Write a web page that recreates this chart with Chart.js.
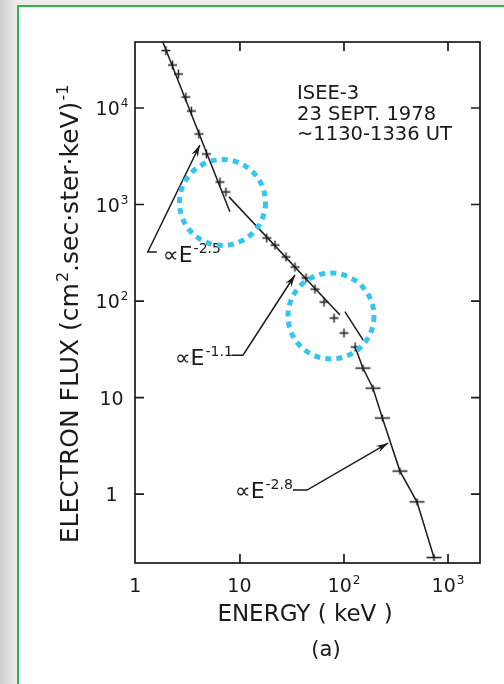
<!DOCTYPE html>
<html>
<head>
<meta charset="utf-8">
<title>ISEE-3 electron spectrum</title>
<script src="https://cdn.jsdelivr.net/npm/chart.js@4.4.0/dist/chart.umd.min.js"></script>
<style>
  html, body { margin: 0; padding: 0; background: #ececec; }
  #wrap { position: relative; width: 504px; height: 684px; }
</style>
</head>
<body>
<div id="wrap"><canvas id="spectrum" width="504" height="684"></canvas></div>
<script>
// measured electron spectrum, ISEE-3, 23 Sept 1978
var energy = [1.94, 2.25, 2.56, 3.02, 3.41, 4.03, 4.76, 6.42, 7.33,
              18.1, 21.7, 27.7, 33.8, 43.1, 52.6, 64.2, 80.2, 100, 128,
              152, 190, 234, 345, 503, 733];
var flux = [39400, 27900, 22500, 13000, 9310, 5380, 3340, 1710, 1350,
            450, 380, 286, 225, 173, 133, 97.7, 66.7, 46.6, 33.4,
            20.2, 12.5, 6.13, 1.73, 0.83, 0.22];

// power-law fits (end points)
var fit25E = [1.82, 8.0],   fit25F = [48000, 840];
var fit11E = [7.85, 91.5],  fit11F = [1200, 71.6];
var fit28E = [102, 153],    fit28F = [77.7, 39.4];
var tailFrom = 120; // keV, where the high-energy trace starts

// axes
var xTicks = [1, 10, 100, 1000];
var xTickBase = ['1', '10', '10', '10'];
var xTickPow = ['', '', '2', '3'];
var yTicks = [1, 10, 100, 1000, 10000];
var yTickBase = ['1', '10', '10', '10', '10'];
var yTickPow = ['', '', '2', '3', '4'];

// arrow annotations: label, foot, bend and arrow tip
var noteExp = ['-2.5', '-1.1', '-2.8'];
var noteLabelE = [1.82, 2.37, 8.95], noteLabelF = [254, 21.7, 0.91];
var noteFootE = [1.59, 8.37, 32.3],  noteFootF = [322, 27.5, 1.10];
var noteBendE = [1.30, 10.7, 44.1];
var noteTipE = [4.12, 33.8, 265],    noteTipF = [4140, 186, 3.37];

// highlighted regions
var ringE = [6.79, 75.0], ringF = [1050, 70];

var infoLines = ['ISEE-3', '23 SEPT. 1978', '~1130-1336 UT'];

var ink = '#1a1a1a';
var FONT = '"DejaVu Sans", sans-serif';

function pts(xs, ys) {
  return xs.map(function(x, i) { return { x: x, y: ys[i] }; });
}

function crossMarker(w, h) {
  var c = document.createElement('canvas');
  c.width = w + 2;
  c.height = h + 2;
  var g = c.getContext('2d');
  g.strokeStyle = ink;
  g.lineWidth = 1.4;
  g.beginPath();
  g.moveTo(1, c.height / 2); g.lineTo(c.width - 1, c.height / 2);
  g.moveTo(c.width / 2, 1); g.lineTo(c.width / 2, c.height - 1);
  g.stroke();
  return c;
}
var smallCross = crossMarker(9, 9);
var wideCross = crossMarker(15, 7);

// text with raised parts: runs = [[text, isSup], ...]
function drawRuns(g, runs, x, y, size, align) {
  var supSize = Math.round(size * 0.62);
  var widths = runs.map(function(r) {
    g.font = (r[1] ? supSize : size) + 'px ' + FONT;
    return g.measureText(r[0]).width + (r[1] ? 1 : 0);
  });
  var total = widths.reduce(function(s, w) { return s + w; }, 0);
  var cx = align === 'center' ? x - total / 2 : (align === 'right' ? x - total : x);
  g.textAlign = 'left';
  g.textBaseline = 'alphabetic';
  runs.forEach(function(r, i) {
    g.font = (r[1] ? supSize : size) + 'px ' + FONT;
    g.fillText(r[0], cx + (r[1] ? 1 : 0), r[1] ? y - size * 0.42 : y);
    cx += widths[i];
  });
}

function arrowHead(g, fx, fy, tx, ty) {
  var ang = Math.atan2(ty - fy, tx - fx);
  g.beginPath();
  g.moveTo(tx, ty);
  g.lineTo(tx - 12 * Math.cos(ang) + 3.5 * Math.sin(ang), ty - 12 * Math.sin(ang) - 3.5 * Math.cos(ang));
  g.lineTo(tx - 8 * Math.cos(ang), ty - 8 * Math.sin(ang));
  g.lineTo(tx - 12 * Math.cos(ang) - 3.5 * Math.sin(ang), ty - 12 * Math.sin(ang) + 3.5 * Math.cos(ang));
  g.closePath();
  g.fill();
}

var paper = {
  id: 'paper',
  beforeDraw: function(chart) {
    var g = chart.ctx, w = chart.width, h = chart.height;
    g.save();
    g.fillStyle = '#ececec';
    g.fillRect(0, 0, w, h);
    var sh = g.createLinearGradient(0, 0, 18, 0);
    sh.addColorStop(0, '#cfcfcf');
    sh.addColorStop(1, '#efefef');
    g.fillStyle = sh;
    g.fillRect(0, 0, 18, h);
    g.fillStyle = '#ffffff';
    g.fillRect(19, 7, w - 19, h - 7);
    g.strokeStyle = '#2db44e';
    g.lineWidth = 2;
    g.beginPath();
    g.moveTo(18, h); g.lineTo(18, 6); g.lineTo(w, 6);
    g.stroke();
    g.restore();
  }
};

var frame = {
  id: 'frame',
  afterDraw: function(chart) {
    var g = chart.ctx, a = chart.chartArea;
    var xs = chart.scales.x, ys = chart.scales.y;
    g.save();
    g.strokeStyle = ink;
    g.fillStyle = ink;
    g.lineWidth = 1.7;
    g.strokeRect(a.left, a.top, a.right - a.left, a.bottom - a.top);

    // inward ticks on all four sides
    g.beginPath();
    xTicks.forEach(function(v) {
      var px = xs.getPixelForValue(v);
      if (px < a.left + 3) return;
      g.moveTo(px, a.top); g.lineTo(px, a.top + 9);
      g.moveTo(px, a.bottom); g.lineTo(px, a.bottom - 9);
    });
    yTicks.forEach(function(v) {
      var py = ys.getPixelForValue(v);
      g.moveTo(a.left, py); g.lineTo(a.left + 9, py);
      g.moveTo(a.right, py); g.lineTo(a.right - 9, py);
    });
    g.stroke();

    xTicks.forEach(function(v, i) {
      drawRuns(g, [[xTickBase[i], false], [xTickPow[i], true]],
        xs.getPixelForValue(v), a.bottom + 29, 19, 'center');
    });
    yTicks.forEach(function(v, i) {
      drawRuns(g, [[yTickBase[i], false], [yTickPow[i], true]],
        a.left - 23, ys.getPixelForValue(v) + 7, 19, 'center');
    });

    // axis titles
    drawRuns(g, [['ENERGY ( keV )', false]], 305, 621, 23, 'center');
    drawRuns(g, [['(a)', false]], 326, 656, 21, 'center');
    g.save();
    g.translate(78, 314);
    g.rotate(-Math.PI / 2);
    drawRuns(g, [['ELECTRON FLUX (cm', false], ['2', true], ['.sec\u00b7ster\u00b7keV)', false], ['-1', true]],
      0, 0, 25, 'center');
    g.restore();

    // run info
    infoLines.forEach(function(t, i) {
      drawRuns(g, [[t, false]], 297, 99 + i * 20.5, 19.5, 'left');
    });

    // arrows with power-law labels
    g.lineWidth = 1.5;
    noteExp.forEach(function(exp, i) {
      var fx = xs.getPixelForValue(noteFootE[i]), fy = ys.getPixelForValue(noteFootF[i]);
      var bx = xs.getPixelForValue(noteBendE[i]);
      var tx = xs.getPixelForValue(noteTipE[i]), ty = ys.getPixelForValue(noteTipF[i]);
      g.beginPath();
      g.moveTo(fx, fy); g.lineTo(bx, fy); g.lineTo(tx, ty);
      g.stroke();
      arrowHead(g, bx, fy, tx, ty);
      drawRuns(g, [['\u221dE', false], [exp, true]],
        xs.getPixelForValue(noteLabelE[i]), ys.getPixelForValue(noteLabelF[i]), 22, 'left');
    });

    // dotted rings round the spectral breaks
    g.strokeStyle = '#35c5f2';
    g.lineWidth = 5;
    g.setLineDash([6, 5.2]);
    ringE.forEach(function(e, i) {
      g.beginPath();
      g.arc(xs.getPixelForValue(e), ys.getPixelForValue(ringF[i]), 43, 0, Math.PI * 2);
      g.stroke();
    });
    g.restore();
  }
};

var lineStyle = { showLine: true, pointRadius: 0, borderColor: ink, borderWidth: 1.5, fill: false };

new Chart(document.getElementById('spectrum').getContext('2d'), {
  type: 'scatter',
  data: {
    datasets: [
      Object.assign({ data: pts(fit25E, fit25F) }, lineStyle),
      Object.assign({ data: pts(fit11E, fit11F) }, lineStyle),
      Object.assign({ data: pts(fit28E, fit28F) }, lineStyle),
      Object.assign({
        data: pts(energy, flux).filter(function(p) { return p.x >= tailFrom; })
      }, lineStyle),
      {
        data: pts(energy, flux),
        showLine: false,
        pointRadius: 5,
        pointStyle: function(ctx) {
          return energy[ctx.dataIndex] > 140 ? wideCross : smallCross;
        }
      }
    ]
  },
  options: {
    responsive: false,
    animation: false,
    layout: { padding: { left: 135, right: 24, top: 42, bottom: 121 } },
    plugins: { legend: { display: false }, tooltip: { enabled: false } },
    scales: {
      x: { type: 'logarithmic', min: 0.98, max: 2030, display: false },
      y: { type: 'logarithmic', min: 0.193, max: 48300, display: false }
    }
  },
  plugins: [paper, frame]
});
</script>
</body>
</html>
